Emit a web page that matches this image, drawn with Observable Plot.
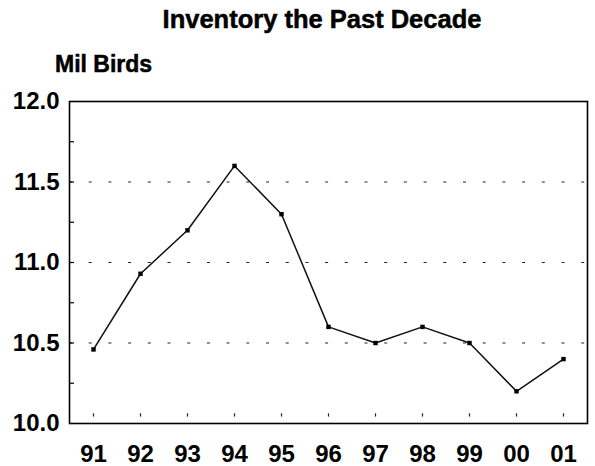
<!DOCTYPE html>
<html>
<head>
<meta charset="utf-8">
<script src="https://cdn.jsdelivr.net/npm/d3@7"></script>
<script src="https://cdn.jsdelivr.net/npm/@observablehq/plot@0.6"></script>
<style>
  html, body { margin: 0; padding: 0; background: #fff; }
  #wrap { position: relative; width: 595px; height: 466px; font-family: "Liberation Sans", Arial, Helvetica, sans-serif; color: #000; }
  #header { position: relative; width: 595px; height: 80px; }
  #title { position: absolute; left: 322px; top: 7px; transform: translateX(-50%); font-size: 25.5px; line-height: 25px; font-weight: bold; white-space: nowrap; -webkit-text-stroke: 0.5px #000; }
  #ylabel { position: absolute; left: 55px; top: 53px; font-size: 23px; line-height: 22px; font-weight: bold; white-space: nowrap; -webkit-text-stroke: 0.5px #000; }
  svg { display: block; }
</style>
</head>
<body>
<div id="wrap">
  <div id="header">
    <div id="title">Inventory the Past Decade</div>
    <div id="ylabel">Mil Birds</div>
  </div>
  <div id="chart"></div>
</div>
<script>
// Data
const years = ["91", "92", "93", "94", "95", "96", "97", "98", "99", "00", "01"];
const inventory = [10.46, 10.93, 11.2, 11.6, 11.3, 10.6, 10.5, 10.6, 10.5, 10.2, 10.4];
const yTicks = [10.0, 10.5, 11.0, 11.5, 12.0];
const yMinorTicks = [10.25, 10.5, 10.75, 11.0, 11.25, 11.5, 11.75];
const gridValues = [10.5, 11.0, 11.5];

const data = years.map((y, i) => ({year: y, value: inventory[i]}));

const W = 595, ML = 69, MR = 8;
const innerW = W - ML - MR;

const chart = Plot.plot({
  width: W,
  height: 386,
  marginTop: 21,
  marginBottom: 43,
  marginLeft: ML,
  marginRight: MR,
  style: {fontFamily: "'Liberation Sans', Arial, Helvetica, sans-serif", fontWeight: "bold", fontSize: "24px", color: "#000", background: "#fff"},
  x: {type: "point", domain: years, padding: 0.5, label: null},
  y: {domain: [10, 12], label: null},
  marks: [
    Plot.ruleY(gridValues, {stroke: "#222", strokeWidth: 1.2, strokeDasharray: "3,16.7"}),
    Plot.ruleX(years, {x: d => d, y1: 10.04, y2: 10.06, stroke: "#222", strokeWidth: 1.2}),
    Plot.tickY(yMinorTicks, {y: d => d, insetRight: innerW - 5, stroke: "#000", strokeWidth: 1.2}),
    Plot.axisY({ticks: yTicks, tickSize: 0, tickPadding: 10, tickFormat: d3.format(".1f"), fontSize: 24, fontWeight: "bold", fill: "#000", stroke: "#000", strokeWidth: 0.5}),
    Plot.axisX({tickSize: 0, tickPadding: 21, fontSize: 24, fontWeight: "bold", fill: "#000", stroke: "#000", strokeWidth: 0.5}),
    Plot.frame({stroke: "#000", strokeWidth: 1.6}),
    Plot.line(data, {x: "year", y: "value", stroke: "#111", strokeWidth: 1.5}),
    Plot.dot(data, {x: "year", y: "value", symbol: "square", r: 2.5, fill: "#000", stroke: "none"})
  ]
});
document.getElementById("chart").appendChild(chart);
</script>
</body>
</html>
